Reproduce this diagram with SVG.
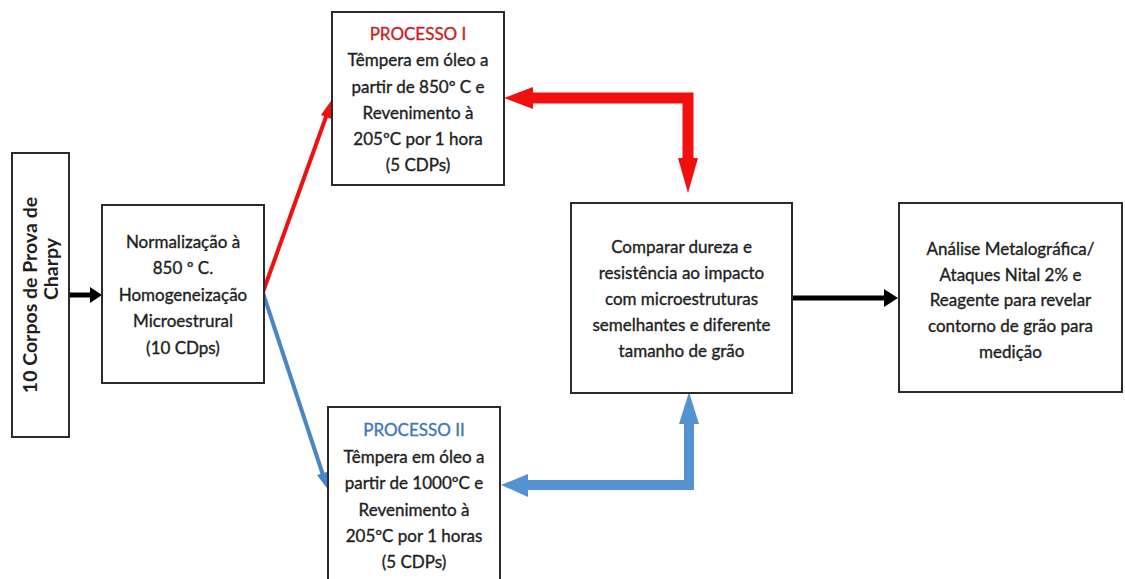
<svg xmlns="http://www.w3.org/2000/svg" width="1125" height="579" viewBox="0 0 1125 579">
<style>
.box{fill:#fff;stroke:#2b2b2b;stroke-width:2}
.t{font-family:Lato,"Liberation Sans",sans-serif;font-size:17px;fill:#1e1e1e;stroke:#1e1e1e;stroke-width:0.35;text-anchor:middle}
.tv{font-family:Lato,"Liberation Sans",sans-serif;font-size:19.5px;font-weight:bold;fill:#1e1e1e;text-anchor:middle}
.red{fill:#f01010}
.blue{fill:#5592d0}
</style>
<rect width="1125" height="579" fill="#fff"/>
<g id="connectors">
  <line x1="70" y1="295" x2="91" y2="295" stroke="#000" stroke-width="5"/>
  <polygon points="90,287 102,295 90,303" fill="#000"/>
  <line x1="263" y1="292" x2="327" y2="114" stroke="#f01010" stroke-width="4"/>
  <polygon points="333,98 334,120 321,115" class="red"/>
  <line x1="263" y1="293" x2="323" y2="475" stroke="#4a86c5" stroke-width="4"/>
  <polygon points="329,491 317,475 330,471" fill="#4a86c5"/>
  <path d="M532,98 H688 V160" fill="none" stroke="#f01010" stroke-width="11"/>
  <polygon points="504,98 533,87 533,109" class="red"/>
  <polygon points="678,158 698,158 688,193" class="red"/>
  <path d="M689,423 V485 H527" fill="none" stroke="#5592d0" stroke-width="10"/>
  <polygon points="689,392 679,424 699,424" class="blue"/>
  <polygon points="501,485 528,474 528,497" class="blue"/>
  <line x1="792" y1="298" x2="886" y2="298" stroke="#000" stroke-width="5"/>
  <polygon points="884,289 898,298 884,307" fill="#000"/>
</g>
<g id="n1">
  <rect class="box" x="12" y="153" width="57" height="284"/>
  <text class="tv" transform="translate(37,295) rotate(-90)">10 Corpos de Prova de</text>
  <text class="tv" transform="translate(58,269) rotate(-90)">Charpy</text>
</g>
<g id="n2">
  <rect class="box" x="102" y="205" width="162" height="178"/>
  <text class="t" x="183" y="248">Normalização à</text>
  <text class="t" x="183" y="274">850 º C.</text>
  <text class="t" x="183" y="301">Homogeneização</text>
  <text class="t" x="183" y="327">Microestrural</text>
  <text class="t" x="183" y="354">(10 CDps)</text>
</g>
<g id="n3">
  <rect class="box" x="332" y="12" width="172" height="173"/>
  <text class="t" x="418" y="40" style="fill:#c81e28;stroke:#c81e28">PROCESSO I</text>
  <text class="t" x="418" y="66">Têmpera em óleo a</text>
  <text class="t" x="418" y="93">partir de 850º C e</text>
  <text class="t" x="418" y="119">Revenimento à</text>
  <text class="t" x="418" y="145">205ºC por 1 hora</text>
  <text class="t" x="418" y="171">(5 CDPs)</text>
</g>
<g id="n4">
  <rect class="box" x="328" y="407" width="172" height="185"/>
  <text class="t" x="414" y="436" style="fill:#3f78b8;stroke:#3f78b8">PROCESSO II</text>
  <text class="t" x="414" y="463">Têmpera em óleo a</text>
  <text class="t" x="414" y="489">partir de 1000ºC e</text>
  <text class="t" x="414" y="516">Revenimento à</text>
  <text class="t" x="414" y="542">205ºC por 1 horas</text>
  <text class="t" x="414" y="568">(5 CDPs)</text>
</g>
<g id="n5">
  <rect class="box" x="571" y="203" width="221" height="190"/>
  <text class="t" x="681.5" y="253">Comparar dureza e</text>
  <text class="t" x="681.5" y="279">resistência ao impacto</text>
  <text class="t" x="681.5" y="305">com microestruturas</text>
  <text class="t" x="681.5" y="331">semelhantes e diferente</text>
  <text class="t" x="681.5" y="357">tamanho de grão</text>
</g>
<g id="n6">
  <rect class="box" x="899" y="203" width="223" height="189"/>
  <text class="t" x="1010.5" y="255">Análise Metalográfica/</text>
  <text class="t" x="1010.5" y="281">Ataques Nital 2% e</text>
  <text class="t" x="1010.5" y="306">Reagente para revelar</text>
  <text class="t" x="1010.5" y="332">contorno de grão para</text>
  <text class="t" x="1010.5" y="358">medição</text>
</g>
</svg>
